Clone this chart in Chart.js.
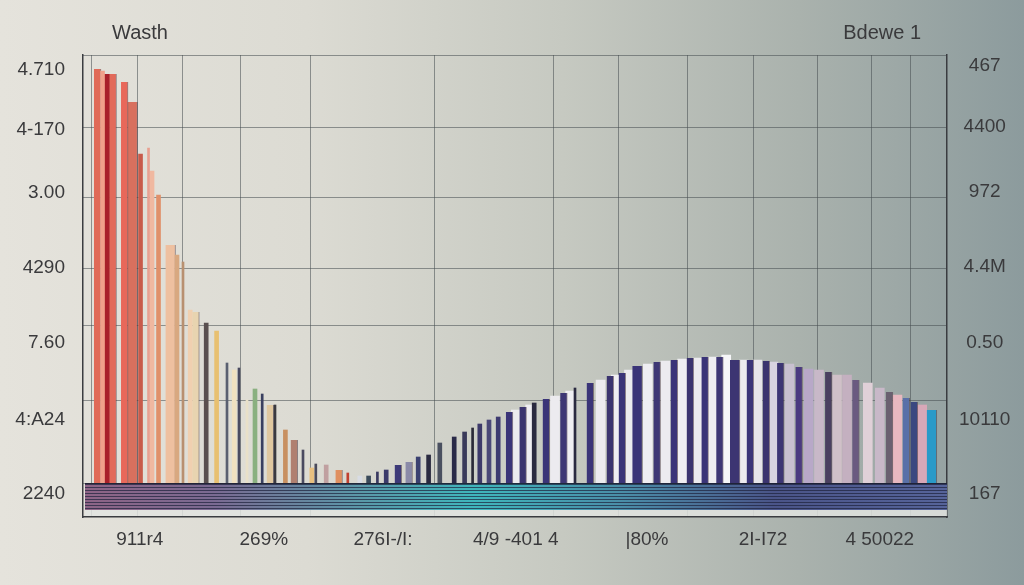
<!DOCTYPE html>
<html>
<head>
<meta charset="utf-8">
<script src="https://cdn.jsdelivr.net/npm/chart.js@4.4.1/dist/chart.umd.min.js"></script>
<style>
  html, body {
    margin: 0;
    padding: 0;
    width: 1024px;
    height: 585px;
    overflow: hidden;
    background: linear-gradient(90deg, #e5e3dc 0%, #dcdbd3 30%, #c6c9c1 55%, #aab2ad 78%, #8c9b9d 100%);
  }
  #wrap { position: relative; width: 1024px; height: 585px; }
</style>
</head>
<body>
<div id="wrap"><canvas id="chart" width="1024" height="585"></canvas></div>
<script>
// axis texts
const leftLabels = ["4.710", "4-170", "3.00", "4290", "7.60", "4:A24", "2240"];
const leftTickPos = [103.25, 88.25, 72.5, 53.75, 35, 15.75, -2.75];
const rightLabels = ["467", "4400", "972", "4.4M", "0.50", "10110", "167"];
const rightTickPos = [104.25, 89, 72.75, 54, 35, 15.75, -2.75];
const xLabels = ["911r4", "269%", "276I-/I:", "4/9 -401 4", "|80%", "2I-I72", "4 50022"];
const xTickPos = [7.1, 22.6, 37.5, 54.1, 70.5, 85, 99.6];
const leftTitle = "Wasth";
const rightTitle = "Bdewe 1";

// grid positions (in axis units)
const gridX = [3.9, 9.6, 15.25, 24, 32.75, 55, 62.5, 71.25, 79.9, 87.6, 96.1, 101];
const gridY = [0, 20.75, 39.5, 53.75, 71.5, 89, 107];
const bandLines = [-0.35, -1.1, -1.85, -2.6, -3.35, -4.1, -4.85, -5.6, -6.35];

// bars, grouped by thickness
const thinPos = [8.19, 12.5, 18.0, 19.5, 20.5, 22.4, 24.0, 27.5, 29.1, 33.1, 36.8, 48.7, 61.5];
const thinVal = [83.75, 55.25, 30, 28.75, 20.75, 22.25, 19.5, 8.25, 4.75, 2.5, 2.75, 13.75, 23.75];
const thinColors = ["#e8a090", "#b89070", "#5a6070", "#4a4a60", "#e8e0c8", "#3a4060", "#3a3a40",
  "#4a4a60", "#4a4a5a", "#c04030", "#3a3a60", "#2a2a38", "#2a2a40"];

const narrowPos = [2.44, 7.19, 8.63, 9.44, 11.75, 13.4, 15.4, 16.7, 18.9, 21.5, 25.3, 28.6, 30.4,
  34.6, 35.7, 37.9, 41.9, 43.2, 44.6, 46.4, 47.7, 49.6, 50.75, 51.9, 56.4];
const narrowVal = [103, 82.25, 78, 72, 57, 43.25, 40, 38, 28.25, 23.5, 13.25, 3.75, 4.5,
  1.75, 1.75, 3.25, 6.5, 7, 10, 11.5, 12.75, 14.75, 15.75, 16.5, 20];
const narrowColors = ["#f0a08a", "#c85a4a", "#f0b8a0", "#e0906a", "#d8a880", "#f0d0b0", "#5a5050",
  "#e8c070", "#f0e0c0", "#8ab080", "#c89060", "#e8c080", "#c0a0a0", "#d8dce4", "#3a4a5a",
  "#3a3a6a", "#3a4070", "#2a2a40", "#4a5060", "#2a2a48", "#3a3a5a", "#3d3a6a", "#4a4878",
  "#3d3a70", "#2a2a40"];

const midPos = [1.81, 3.0, 3.75, 5.19, 14.1, 23.4, 26.4, 32.0, 39.4, 40.75, 53.3, 55.0, 57.9,
  60.1, 63.4, 65.9, 67.4, 71.75, 73.9, 75.9, 77.75, 79.6, 83.4, 85.4, 87.2, 89.5, 93.2, 96.6,
  100.8, 102.9, 103.9];
const midVal = [103.5, 102.25, 102.25, 100.25, 42.75, 19.5, 10.75, 3.25, 4.5, 5.25, 17.75, 19, 21,
  22.5, 25, 26.75, 27.5, 30.25, 30.75, 31.25, 31.5, 31.5, 30.75, 30.5, 30, 29, 27.75, 25.75,
  22.75, 21.25, 20.25];
const midColors = ["#e06a58", "#a8202a", "#e26a5a", "#e8685a", "#e8d4b0", "#e0c8a0", "#b08070",
  "#e09060", "#3d3a78", "#8a8aa8", "#3a3478", "#3b346f", "#3a3478", "#3e3775", "#3a3478",
  "#3b346f", "#3a3478", "#3e3775", "#3a3478", "#3b346f", "#3a3478", "#3e3775", "#3a3478",
  "#3b346f", "#3d3674", "#4a3a80", "#4a4060", "#6a5a80", "#6a6070", "#5a70a8", "#3a4880"];

const widePos = [6.19, 10.94, 69.3, 81.5, 106.1];
const wideVal = [95.25, 59.5, 29.25, 30.75, 18.25];
const wideColors = ["#d8705e", "#eec0a0", "#3a3478", "#3c3572", "#2a9ac8"];

const lightPos = [54.1, 55.9, 59, 60.9, 64.7, 66.6, 68.25, 70.6, 72.8, 74.9, 76.8, 78.7, 80.4,
  82.6, 84.3, 86.3, 88.3, 90.7, 92, 94.25, 95.5, 98.1, 99.6, 101.8, 104.9];
const lightVal = [18.25, 19.5, 21.75, 23, 25.75, 27, 28.25, 29.75, 30.5, 31, 31.25, 31.5, 32,
  30.75, 30.75, 30.25, 29.75, 28.5, 28.25, 27, 27, 25, 23.75, 22, 19.5];
const lightColors = ["#ecebef", "#efeef2", "#ecebef", "#efeef2", "#ecebef", "#efeef2", "#ecebef",
  "#efeef2", "#ecebef", "#efeef2", "#ecebef", "#efeef2", "#f6f6f8", "#ecebef", "#e6e4ea",
  "#d8d4e0", "#c8c0d0", "#b8a8c8", "#c8b8c8", "#d0c0c8", "#c4b0c0", "#e0d0d8", "#c8b8c8",
  "#e8b8c0", "#d8a8b8"];

const toPoints = (xs, ys) => xs.map((x, i) => ({ x: x, y: ys[i] }));

const textFont = { family: "'Liberation Sans', Arial, sans-serif", size: 19 };
const textColor = "#3a3a3c";
const gridColor = "rgba(70, 76, 80, 0.55)";

const barSet = (points, colors, thickness, edge) => ({
  data: points,
  backgroundColor: colors,
  barThickness: thickness,
  borderWidth: edge ? { left: 0, right: 1, top: 0, bottom: 0 } : 0,
  borderColor: "rgba(70, 50, 60, 0.55)",
  borderSkipped: "start",
  grouped: false,
  xAxisID: "x",
  yAxisID: "y",
});

// titles above the two value axes
const headerPlugin = {
  id: "header",
  afterDraw(chart) {
    const ctx = chart.ctx;
    ctx.save();
    ctx.font = "20px 'Liberation Sans', Arial, sans-serif";
    ctx.fillStyle = textColor;
    ctx.textBaseline = "middle";
    ctx.textAlign = "left";
    ctx.fillText(leftTitle, 112, 33);
    ctx.textAlign = "right";
    ctx.fillText(rightTitle, 921, 33);
    ctx.restore();
  },
};

// striped band under the baseline
const bandPlugin = {
  id: "band",
  afterDatasetsDraw(chart) {
    const ctx = chart.ctx;
    const area = chart.chartArea;
    const y = chart.scales.y;
    const top = y.getPixelForValue(0);
    const bottom = y.getPixelForValue(-6.75);
    const left = area.left + 2;
    const right = area.right;
    ctx.save();
    // pale strip between band and bottom border
    ctx.fillStyle = "rgba(226, 228, 224, 0.85)";
    ctx.fillRect(left, bottom, right - left, area.bottom - bottom - 1);
    const grad = ctx.createLinearGradient(left, 0, right, 0);
    grad.addColorStop(0, "#8e6486");
    grad.addColorStop(0.15, "#7a6a92");
    grad.addColorStop(0.32, "#5a98a8");
    grad.addColorStop(0.45, "#3fb6bc");
    grad.addColorStop(0.62, "#4a8ea8");
    grad.addColorStop(0.8, "#4a5488");
    grad.addColorStop(1, "#56649a");
    ctx.fillStyle = grad;
    ctx.fillRect(left, top, right - left, bottom - top);
    ctx.strokeStyle = "rgba(30, 34, 60, 0.7)";
    ctx.lineWidth = 1;
    bandLines.forEach((v) => {
      const py = Math.round(y.getPixelForValue(v)) + 0.5;
      ctx.beginPath();
      ctx.moveTo(left, py);
      ctx.lineTo(right, py);
      ctx.stroke();
    });
    ctx.strokeStyle = "rgba(25, 28, 45, 0.9)";
    ctx.beginPath();
    ctx.moveTo(left, Math.round(top) + 0.5);
    ctx.lineTo(right, Math.round(top) + 0.5);
    ctx.stroke();
    ctx.restore();
  },
};

new Chart(document.getElementById("chart"), {
  type: "bar",
  data: {
    datasets: [
      barSet(toPoints(thinPos, thinVal), thinColors, 2, false),
      barSet(toPoints(narrowPos, narrowVal), narrowColors, 4, false),
      barSet(toPoints(midPos, midVal), midColors, 7, true),
      barSet(toPoints(widePos, wideVal), wideColors, 10, true),
      barSet(toPoints(lightPos, lightVal), lightColors, 9, false),
    ],
  },
  options: {
    responsive: false,
    animation: false,
    layout: { padding: { top: 55, left: 0, right: 0, bottom: 0 } },
    plugins: {
      legend: { display: false },
      tooltip: { enabled: false },
    },
    scales: {
      x: {
        type: "linear",
        position: "bottom",
        min: 0,
        max: 108,
        offset: false,
        grid: { display: false, offset: false },
        border: { display: true, color: "#3a3c40", width: 1.5 },
        afterBuildTicks: (scale) => { scale.ticks = xTickPos.map((v) => ({ value: v })); },
        afterFit: (scale) => { scale.height = 68; },
        ticks: {
          autoSkip: false,
          maxRotation: 0,
          padding: 3,
          color: textColor,
          font: textFont,
          callback: (value) => xLabels[xTickPos.indexOf(value)],
        },
      },
      xg: {
        type: "linear",
        position: "top",
        min: 0,
        max: 108,
        offset: false,
        grid: { color: gridColor, lineWidth: 1, drawTicks: false },
        border: { display: false },
        afterBuildTicks: (scale) => { scale.ticks = gridX.map((v) => ({ value: v })); },
        afterFit: (scale) => { scale.height = 0; },
        ticks: { display: false },
      },
      y: {
        type: "linear",
        position: "left",
        min: -8.5,
        max: 107,
        grid: { display: false },
        border: { display: true, color: "#3a3c40", width: 1.5 },
        afterBuildTicks: (scale) => { scale.ticks = leftTickPos.map((v) => ({ value: v })); },
        afterFit: (scale) => { scale.width = 83; },
        ticks: {
          padding: 10,
          color: textColor,
          font: textFont,
          callback: (value) => leftLabels[leftTickPos.indexOf(value)],
        },
      },
      yg: {
        type: "linear",
        position: "left",
        min: -8.5,
        max: 107,
        grid: { color: gridColor, lineWidth: 1, drawTicks: false },
        border: { display: false },
        afterBuildTicks: (scale) => { scale.ticks = gridY.map((v) => ({ value: v })); },
        afterFit: (scale) => { scale.width = 0; },
        ticks: { display: false },
      },
      y2: {
        type: "linear",
        position: "right",
        min: -8.5,
        max: 107,
        grid: { display: false },
        border: { display: true, color: "#3a3c40", width: 1.5 },
        afterBuildTicks: (scale) => { scale.ticks = rightTickPos.map((v) => ({ value: v })); },
        afterFit: (scale) => { scale.width = 77; },
        ticks: {
          crossAlign: "center",
          padding: 4,
          color: textColor,
          font: textFont,
          callback: (value) => rightLabels[rightTickPos.indexOf(value)],
        },
      },
    },
  },
  plugins: [bandPlugin, headerPlugin],
});
</script>
</body>
</html>
